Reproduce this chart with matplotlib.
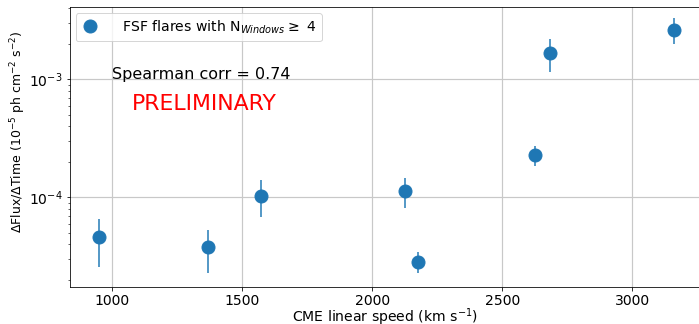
import numpy as np
import matplotlib.pyplot as plt

# CME speed vs flux rise rate
cme_speed = [949, 1368, 1572, 2125, 2177, 2625, 2684, 3162]
dflux_dt = [4.58e-5, 3.77e-5, 1.026e-4, 1.13e-4, 2.84e-5, 2.28e-4, 1.66e-3, 2.60e-3]
err_hi = [6.59e-5, 5.25e-5, 1.40e-4, 1.47e-4, 3.44e-5, 2.72e-4, 2.21e-3, 3.31e-3]
err_lo = [2.55e-5, 2.31e-5, 6.78e-5, 8.07e-5, 2.31e-5, 1.85e-4, 1.15e-3, 1.99e-3]
spearman = 0.74

y = np.array(dflux_dt)
yerr = [y - np.array(err_lo), np.array(err_hi) - y]

fig = plt.figure(figsize=(699 / 72, 324 / 72), dpi=72)
ax = fig.add_axes([0.100, 0.115, 0.902, 0.863])

ax.errorbar(cme_speed, dflux_dt, yerr=yerr, fmt='none',
            elinewidth=2, ecolor=(0.12, 0.47, 0.71, 0.75))
ax.plot(cme_speed, dflux_dt, 'o', color='#1f77b4', markersize=13,
        label='   FSF flares with N$_{Windows}\\geq$ 4')

ax.set_yscale('log')
ax.set_xlim(837, 3262)
ax.set_ylim(1.75e-5, 4.1e-3)
ax.grid(True, color='#c8c8c8', linewidth=1.2)
ax.set_axisbelow(True)

ax.text(1000, 1.0e-3, 'Spearman corr = %.2f' % spearman, fontsize=16, va='baseline')
ax.text(1077, 5.5e-4, 'PRELIMINARY', fontsize=22, color='red', va='baseline')

ax.set_xlabel('CME linear speed (km s$^{-1}$)', fontsize=14, labelpad=-1)
ax.set_ylabel('$\\Delta$Flux/$\\Delta$Time (10$^{-5}$ ph cm$^{-2}$ s$^{-2}$)', fontsize=12.5)
ax.yaxis.set_label_coords(-0.066, 0.553)
ax.tick_params(labelsize=14)
ax.legend(loc='upper left', fontsize=14, handlelength=1.2, borderaxespad=0.4)

plt.savefig('out.png', dpi=72)
